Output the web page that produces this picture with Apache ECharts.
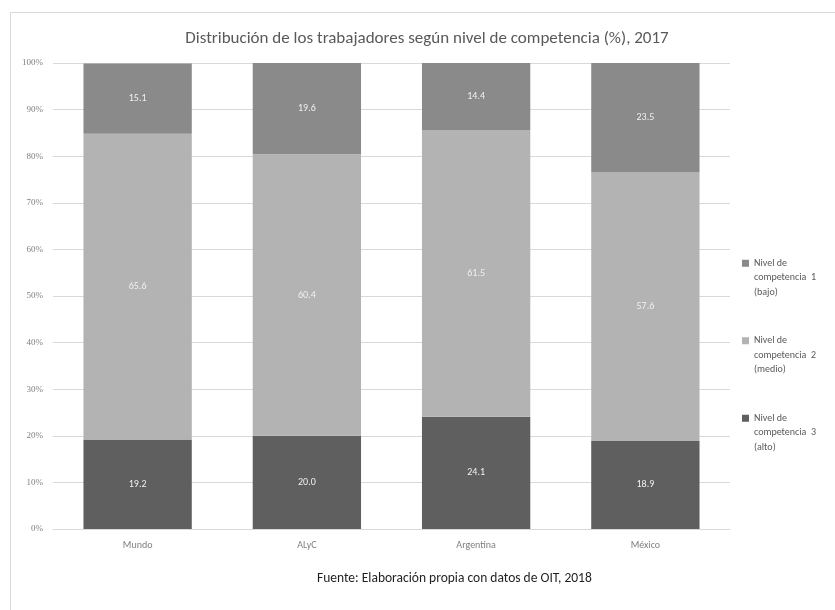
<!DOCTYPE html>
<html>
<head>
<meta charset="utf-8">
<script src="https://cdn.jsdelivr.net/npm/echarts@6/dist/echarts.min.js"></script>
<style>
html,body{margin:0;padding:0;background:#fff;}
#c{width:835px;height:610px;}
</style>
</head>
<body>
<div id="c"></div>
<script>
var categories = ['Mundo', 'ALyC', 'Argentina', 'México'];
var seriesNames = ['Nivel de\ncompetencia  1\n(bajo)', 'Nivel de\ncompetencia  2\n(medio)', 'Nivel de\ncompetencia  3\n(alto)'];
var nivel1 = [15.1, 19.6, 14.4, 23.5];
var nivel2 = [65.6, 60.4, 61.5, 57.6];
var nivel3 = [19.2, 20.0, 24.1, 18.9];
var yTicks = [0, 10, 20, 30, 40, 50, 60, 70, 80, 90, 100];
var titleText = 'Distribución de los trabajadores según nivel de competencia (%), 2017';
var sourceText = 'Fuente: Elaboración propia con datos de OIT, 2018';

var FONT = 'Carlito, "Liberation Sans Narrow", Lato, sans-serif';
var colors = ['#8a8a8a', '#b3b3b3', '#5f5f5f'];
var iconPath = 'path://M0,0H7V7H0Z M0,36H0.01';

function barSeries(name, data, color) {
  return {
    name: name,
    type: 'bar',
    stack: 'total',
    data: data,
    barCategoryGap: '36%',
    itemStyle: { color: color },
    label: {
      show: true,
      position: 'inside',
      color: '#f0f0f0',
      fontFamily: FONT,
      fontSize: 10,
      formatter: function (p) { return Number(p.value).toFixed(1); }
    },
    emphasis: { disabled: true }
  };
}

var chart = echarts.init(document.getElementById('c'));
chart.setOption({
  animation: false,
  backgroundColor: '#ffffff',
  title: {
    text: titleText,
    left: 422,
    top: 25,
    textAlign: 'center',
    textStyle: { fontFamily: FONT, fontSize: 17, fontWeight: 'normal', color: '#595959' }
  },
  graphic: [
    {
      type: 'rect',
      shape: { x: 10.5, y: 12.5, width: 900, height: 700 },
      style: { fill: 'none', stroke: '#d9d9d9', lineWidth: 1 },
      silent: true
    },
    {
      type: 'text',
      left: 317,
      top: 572,
      style: { text: sourceText, fontFamily: FONT, fontSize: 13.5, fill: '#1f1f1f' }
    }
  ],
  legend: {
    orient: 'vertical',
    left: 737,
    top: 251,
    itemWidth: 7,
    itemHeight: 36,
    itemGap: 34,
    icon: iconPath,
    data: seriesNames.map(function (n, i) { return { name: n, icon: iconPath, itemStyle: { color: colors[i] } }; }),
    textStyle: { fontFamily: FONT, fontSize: 10, color: '#595959', lineHeight: 14.5 },
    selectedMode: false
  },
  grid: { left: 53, right: 105, top: 63, bottom: 81, containLabel: false },
  xAxis: {
    type: 'category',
    data: categories,
    axisLine: { lineStyle: { color: '#d9d9d9' } },
    axisTick: { show: false },
    axisLabel: { color: '#7f7f7f', fontFamily: FONT, fontSize: 10, margin: 11 }
  },
  yAxis: {
    type: 'value',
    min: yTicks[0],
    max: yTicks[yTicks.length - 1],
    interval: yTicks[1] - yTicks[0],
    axisLine: { show: false },
    axisTick: { show: false },
    splitLine: { lineStyle: { color: '#d9d9d9' } },
    axisLabel: { color: '#7f7f7f', fontFamily: '"Liberation Serif", serif', fontSize: 9, margin: 10, formatter: '{value}%' }
  },
  series: [
    barSeries(seriesNames[2], nivel3, colors[2]),
    barSeries(seriesNames[1], nivel2, colors[1]),
    barSeries(seriesNames[0], nivel1, colors[0])
  ]
});
</script>
</body>
</html>
